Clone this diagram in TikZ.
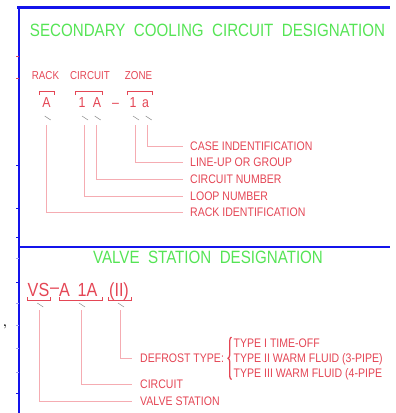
\documentclass[tikz,border=0pt]{standalone}
\usepackage{fontspec}
\usepackage{xcolor}
\usetikzlibrary{positioning,decorations.pathreplacing}
\newfontfamily\cadfont[FakeStretch=0.85]{Liberation Sans}
\definecolor{cadgreen}{RGB}{85,228,85}
\definecolor{cadred}{RGB}{228,70,85}
\definecolor{leadred}{RGB}{245,172,178}
\definecolor{cadblue}{RGB}{20,20,235}
\definecolor{slashgray}{RGB}{140,140,140}

\begin{document}
\begin{tikzpicture}[
    x=1pt, y=-1pt,
    title/.style={text=cadgreen, font=\cadfont\fontsize{17.8}{18}\selectfont, inner sep=0, anchor=base},
    head/.style={text=cadred, font=\cadfont\fontsize{11.5}{12}\selectfont, inner sep=0, anchor=base},
    code/.style={text=cadred, font=\cadfont\fontsize{14.5}{15}\selectfont, inner sep=0, anchor=base},
    bigcode/.style={text=cadred, font=\cadfont\fontsize{19}{19}\selectfont, inner sep=0, anchor=base},
    desc/.style={text=cadred, font=\cadfont\fontsize{12.4}{13}\selectfont, inner sep=0, anchor=west},
    frame/.style={draw=cadblue, line width=2.2pt},
    bracket/.style={draw=cadred, line width=0.7pt},
    leader/.style={draw=leadred, line width=0.7pt},
    slash/.style={draw=slashgray, line width=0.5pt}
]
\useasboundingbox (0,0) rectangle (396,413);

% Frame
\draw[frame] (17,7.5) -- (390,7.5);
\draw[frame] (19,6.5) -- (19,413);
\draw[frame] (19,247) -- (390,247);
\foreach \ty in {56,78}
    \draw[cadred, line width=1pt] (16,\ty) -- (19,\ty);
\foreach \ty in {165,208,237,282,393}
    \draw[cadblue, line width=1pt] (16,\ty) -- (19,\ty);
\foreach \ty in {258,303,325,348,372}
    \draw[cadblue!40, line width=0.8pt] (16,\ty) -- (19,\ty);
\node[anchor=base, font=\bfseries\fontsize{12}{12}\selectfont, inner sep=0] (comma) at (5,326) {,};

% Secondary cooling circuit
\node[title] (title1) at (207.5,36) {SECONDARY~~COOLING~~CIRCUIT~~DESIGNATION};

\node[head] (hRack) at (45.5,79.5) {RACK};
\node[head] (hCircuit) at (90,79.5) {CIRCUIT};
\node[head] (hZone) at (138.5,79.5) {ZONE};

\draw[bracket] (39,95) -- (39,91) -- (54,91) -- (54,95);
\draw[bracket] (75.5,95) -- (75.5,91) -- (102.5,91) -- (102.5,95);
\draw[bracket] (127,95) -- (127,91) -- (152,91) -- (152,95);

\node[code] (cRack) at (46.5,107.5) {A};
\node[code] (cLoop) at (82,107.5) {1};
\node[code] (cCirc) at (97,107.5) {A};
\node[code] (cDash) at (115.5,107.5) {\textendash};
\node[code] (cLine) at (133,107.5) {1};
\node[code] (cCase) at (145.5,107.5) {a};

\node[desc] (lCase) at (190,146.7) {CASE INDENTIFICATION};
\node[desc] (lLine) at (190,162.7) {LINE-UP OR GROUP};
\node[desc] (lCirc) at (190,179) {CIRCUIT NUMBER};
\node[desc] (lLoop) at (190,196) {LOOP NUMBER};
\node[desc] (lRack) at (190,212.7) {RACK IDENTIFICATION};

\foreach \c/\dx/\lab in {cRack/0.2/lRack, cLoop/2/lLoop, cCirc/-0.3/lCirc, cLine/2/lLine, cCase/2.2/lCase} {
    \draw[slash] ([shift={(\dx-2,8.5)}]\c.base) -- ++(6,4);
    \draw[leader] ([shift={(\dx,17.5)}]\c.base) |- ([xshift=-7pt]\lab.west);
}

% Valve station
\node[title] (title2) at (208,263.5) {VALVE~~STATION~~DESIGNATION};

\node[bigcode] (vs) at (38.5,296.5) {VS};
\node[bigcode] (vDash) at (54.5,293) {\textendash};
\node[bigcode] (vRack) at (64.5,296.5) {A};
\node[bigcode] (vCirc) at (87.5,296.5) {1A};
\node[bigcode] (vDef) at (119,296.5) {(II)};

\draw[bracket] (27,297) -- (27,300.3) -- (50,300.3) -- (50,297);
\draw[bracket] (59,297) -- (59,300.3) -- (102,300.3) -- (102,297);
\draw[bracket] (108,297) -- (108,300.3) -- (131,300.3) -- (131,297);

\node[desc] (lDef) at (140,358.3) {DEFROST TYPE:};
\node[desc] (lVCirc) at (140,384) {CIRCUIT};
\node[desc] (lVs) at (140,401) {VALVE STATION};

\foreach \c/\dx/\lab in {vs/0.8/lVs, vCirc/-6.5/lVCirc, vDef/1/lDef} {
    \draw[slash] ([shift={(\dx-2,6.5)}]\c.base) -- ++(6,4);
    \draw[leader] ([shift={(\dx,13.5)}]\c.base) |- ([xshift=-8pt]\lab.west);
}

\node[desc, anchor=base west] (tOne) at (233.5,347.5) {TYPE I TIME-OFF};
\node[desc, anchor=base west] (tTwo) at (233.5,362) {TYPE II WARM FLUID (3-PIPE)};
\node[desc, anchor=base west] (tThree) at (233.5,377) {TYPE III WARM FLUID (4-PIPE};
\draw[cadred, line width=1.3pt, decorate, decoration={brace, amplitude=3.5pt}]
    (231.5,379.5) -- (231.5,337);

\end{tikzpicture}
\end{document}
